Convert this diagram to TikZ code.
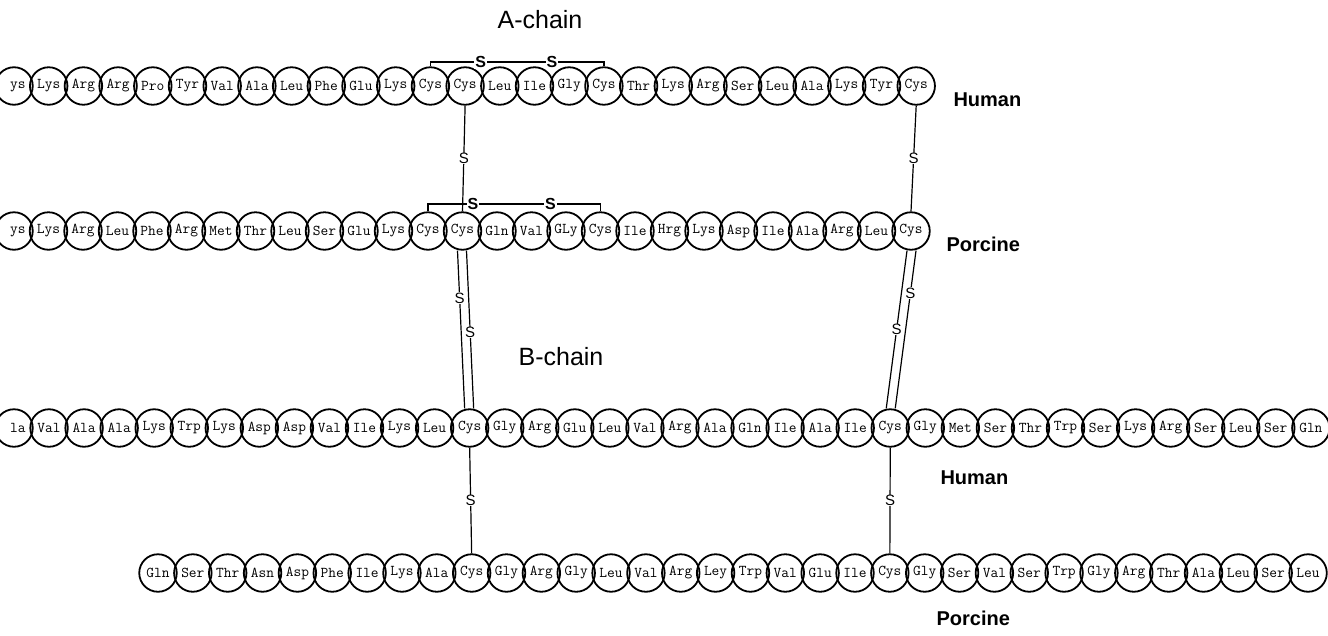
\documentclass[tikz,border=0pt]{standalone}
\usepackage{fontspec}
\setsansfont{Liberation Sans}
\begin{document}
\begin{tikzpicture}[x=1pt,y=-1pt,
  aa/.style={draw, line width=1.8pt, circle, minimum size=37.5pt, inner sep=0pt,
    font=\fontsize{15}{15}\selectfont\ttfamily},
  bond/.style={line width=1.2pt},
  sb/.style={fill=white, inner sep=1pt, font=\fontsize{16}{16}\selectfont\sffamily\bfseries},
  sv/.style={fill=white, inner sep=0.5pt, font=\fontsize{15}{15}\selectfont\sffamily},
  species/.style={anchor=west, font=\fontsize{20}{20}\selectfont\sffamily\bfseries},
  chain/.style={font=\fontsize{25}{25}\selectfont\sffamily}]
\useasboundingbox (0,0) rectangle (1328,635);
\clip (0,0) rectangle (1328,635);
% Row 1: human A-chain
\foreach \t [count=\i from 0] in {\phantom{L}ys,Lys,Arg,Arg,Pro,Tyr,Val,Ala,Leu,Phe,Glu,Lys,Cys,Cys,Leu,Ile,Gly,Cys,Thr,Lys,Arg,Ser,Leu,Ala,Lys,Tyr,Cys}
  \node[aa] (hA\i) at (14+\i*34.7,86) {\t};
% Row 2: porcine A-chain
\foreach \t [count=\i from 0] in {\phantom{L}ys,Lys,Arg,Leu,Phe,Arg,Met,Thr,Leu,Ser,Glu,Lys,Cys,Cys,Gln,Val,GLy,Cys,Ile,Hrg,Lys,Asp,Ile,Ala,Arg,Leu,Cys}
  \node[aa] (pA\i) at (14+\i*34.5,231) {\t};
% Row 3: human B-chain
\foreach \t [count=\i from 0] in {\phantom{A}la,Val,Ala,Ala,Lys,Trp,Lys,Asp,Asp,Val,Ile,Lys,Leu,Cys,Gly,Arg,Glu,Leu,Val,Arg,Ala,Gln,Ile,Ala,Ile,Cys,Gly,Met,Ser,Thr,Trp,Ser,Lys,Arg,Ser,Leu,Ser,Gln}
  \node[aa] (hB\i) at (14+\i*35.05,428) {\t};
% Row 4: porcine B-chain
\foreach \t [count=\i from 0] in {Gln,Ser,Thr,Asn,Asp,Phe,Ile,Lys,Ala,Cys,Gly,Arg,Gly,Leu,Val,Arg,Ley,Trp,Val,Glu,Ile,Cys,Gly,Ser,Val,Ser,Trp,Gly,Arg,Thr,Ala,Leu,Ser,Leu}
  \node[aa] (pB\i) at (158+\i*34.85,573) {\t};
% intra-chain bridges
\coordinate (b1l) at (hA12.north |- 0,62);
\coordinate (b1r) at (hA17.north |- 0,62);
\draw[bond] (hA12.north) -- (b1l) -- node[pos=0.29,sb]{S} node[pos=0.70,sb]{S} (b1r) -- (hA17.north);
\coordinate (b2l) at (pA12.north |- 0,204);
\coordinate (b2r) at (pA17.north |- 0,204);
\draw[bond] (pA12.north) -- (b2l) -- node[pos=0.26,sb]{S} node[pos=0.71,sb]{S} (b2r) -- (pA17.north);
% human A to porcine A
\draw[bond] (hA13.south) -- node[midway,sv]{S} (pA13.north);
\draw[bond] (hA26.south) -- node[midway,sv]{S} (pA26.north);
% porcine A to human B (double)
\draw[bond] ([xshift=-5pt]pA13.south) -- node[pos=0.3,sv]{S} ([xshift=-5pt]hB13.north);
\draw[bond] ([xshift=4pt]pA13.south) -- node[pos=0.52,sv]{S} ([xshift=4pt]hB13.north);
\draw[bond] ([xshift=5pt]pA26.south) -- node[pos=0.27,sv]{S} ([xshift=5pt]hB25.north);
\draw[bond] ([xshift=-4pt]pA26.south) -- node[pos=0.5,sv]{S} ([xshift=-4pt]hB25.north);
% human B to porcine B
\draw[bond] (hB13.south) -- node[midway,sv]{S} (pB9.north);
\draw[bond] (hB25.south) -- node[midway,sv]{S} (pB21.north);
% labels
\node[chain] (tA) at (540,20) {A-chain};
\node[chain] (tB) at (561,357) {B-chain};
\node[species] (s1) at (950,100) {Human};
\node[species] (s2) at (943,244) {Porcine};
\node[species] (s3) at (937,478) {Human};
\node[species] (s4) at (933,618) {Porcine};
\end{tikzpicture}
\end{document}
